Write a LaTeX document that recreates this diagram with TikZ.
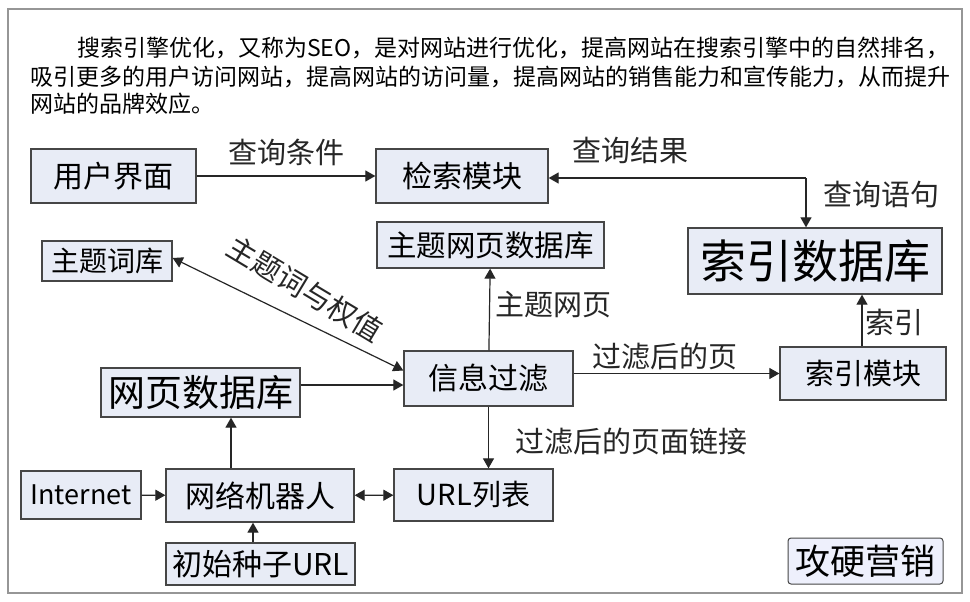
\documentclass[tikz,border=0pt]{standalone}
\usepackage{fontspec}
\setmainfont{Noto Sans CJK SC}
\usetikzlibrary{arrows.meta,calc}
\definecolor{boxfill}{RGB}{232,236,246}
\definecolor{boxline}{RGB}{70,70,70}
\definecolor{framegray}{RGB}{150,150,150}
\definecolor{brandfill}{RGB}{238,240,252}
\tikzset{
  blk/.style={draw=boxline, line width=1.3pt, fill=boxfill, inner sep=0pt, anchor=center},
  arr/.style={-{Triangle[length=10pt,width=11pt]}, line width=1.2pt, draw=black!85},
  arrtwo/.style={{Triangle[length=10pt,width=11pt]}-{Triangle[length=10pt,width=11pt]}, line width=1.2pt, draw=black!85},
  lbl/.style={inner sep=0pt, font=\fontsize{29}{30}\selectfont, text=black!85},
  para/.style={inner sep=0pt, anchor=west, font=\fontsize{23}{24}\selectfont}
}
\begin{document}
\begin{tikzpicture}[x=1pt,y=-1pt]
\useasboundingbox (0,0) rectangle (970,602);
\fill[white] (0,0) rectangle (970,602);
\draw[framegray, line width=1.5pt] (8,9) rectangle (962,593);

% paragraph
\node[para] (p1) at (77,48) {搜索引擎优化，又称为SEO，是对网站进行优化，提高网站在搜索引擎中的自然排名，};
\node[para] (p2) at (30,77) {吸引更多的用户访问网站，提高网站的访问量，提高网站的销售能力和宣传能力，从而提升};
\node[para] (p3) at (30,104) {网站的品牌效应。};

% boxes
\node[blk, minimum width=165pt, minimum height=54pt, font=\fontsize{30}{31}\selectfont] (ui) at (113.5,176) {用户界面};
\node[blk, minimum width=172pt, minimum height=54pt, font=\fontsize{30}{31}\selectfont] (search) at (462,176) {检索模块};
\node[blk, minimum width=254pt, minimum height=66pt, font=\fontsize{46}{47}\selectfont] (idxdb) at (815,261) {索引数据库};
\node[blk, minimum width=130pt, minimum height=40pt, font=\fontsize{28}{29}\selectfont] (topicdict) at (107,261) {主题词库};
\node[blk, minimum width=227pt, minimum height=46pt, font=\fontsize{29.5}{30}\selectfont] (topicpage) at (490.5,245) {主题网页数据库};
\node[blk, minimum width=169pt, minimum height=55pt, font=\fontsize{30}{31}\selectfont] (filter) at (488.5,378.5) {信息过滤};
\node[blk, minimum width=199pt, minimum height=49pt, font=\fontsize{37}{38}\selectfont] (pagedb) at (200.5,392.5) {网页数据库};
\node[blk, minimum width=166pt, minimum height=53pt, font=\fontsize{29}{30}\selectfont] (idxmod) at (863,373.5) {索引模块};
\node[blk, minimum width=120pt, minimum height=48pt, font=\fontsize{27}{28}\selectfont] (internet) at (81,495) {Internet};
\node[blk, minimum width=188pt, minimum height=53pt, font=\fontsize{30}{31}\selectfont] (robot) at (260,495.5) {网络机器人};
\node[blk, minimum width=159pt, minimum height=52pt, font=\fontsize{29}{30}\selectfont] (urllist) at (473.5,495) {URL列表};
\node[blk, minimum width=189pt, minimum height=42pt, font=\fontsize{30}{31}\selectfont] (seed) at (260.5,564) {初始种子URL};
\node[draw=boxline, line width=1pt, fill=brandfill, rounded corners=3pt, inner sep=0pt, minimum width=155pt, minimum height=46pt, font=\fontsize{35}{36}\selectfont] (brand) at (865.5,561) {攻硬营销};

% connectors
\draw[arr] (ui) -- (search);
\coordinate (c1) at (806,178);
\draw[arr] (c1) -- (c1 -| search.east);
\draw[arr] (c1) -- (c1 |- idxdb.north);
\coordinate (dA) at ($(topicdict.east)+(0,-3)$);
\coordinate (dB) at ($(filter.west)+(0,-8)$);
\draw[arrtwo] (dA) -- (dB);
\draw[arr] (filter) -- (topicpage);
\draw[arr] (filter) -- (urllist.north -| filter);
\draw[arr] (filter.east |- idxmod) -- (idxmod.west);
\draw[arr] (idxmod.north -| 862,0) -- (idxdb.south -| 862,0);
\coordinate (c2) at (0,385);
\draw[arr] (pagedb.east |- c2) -- (filter.west |- c2);
\draw[arr] (robot.north -| 231,0) -- (pagedb.south -| 231,0);
\draw[arr] (internet) -- (robot);
\draw[arrtwo] (robot) -- (urllist);
\draw[arr] (seed.north -| 253,0) -- (robot.south -| 253,0);

% labels
\node[lbl] (l1) at (286,152) {查询条件};
\node[lbl] (l2) at (630,150) {查询结果};
\node[lbl] (l3) at (881,195) {查询语句};
\node[lbl] (l4) at (553,305) {主题网页};
\node[lbl] (l5) at (665,356) {过滤后的页};
\node[lbl] (l6) at (894,322) {索引};
\node[lbl] (l7) at (631,441) {过滤后的页面链接};
\node[lbl, rotate=-31] (l8) at (305,289) {主题词与权值};
\end{tikzpicture}
\end{document}
